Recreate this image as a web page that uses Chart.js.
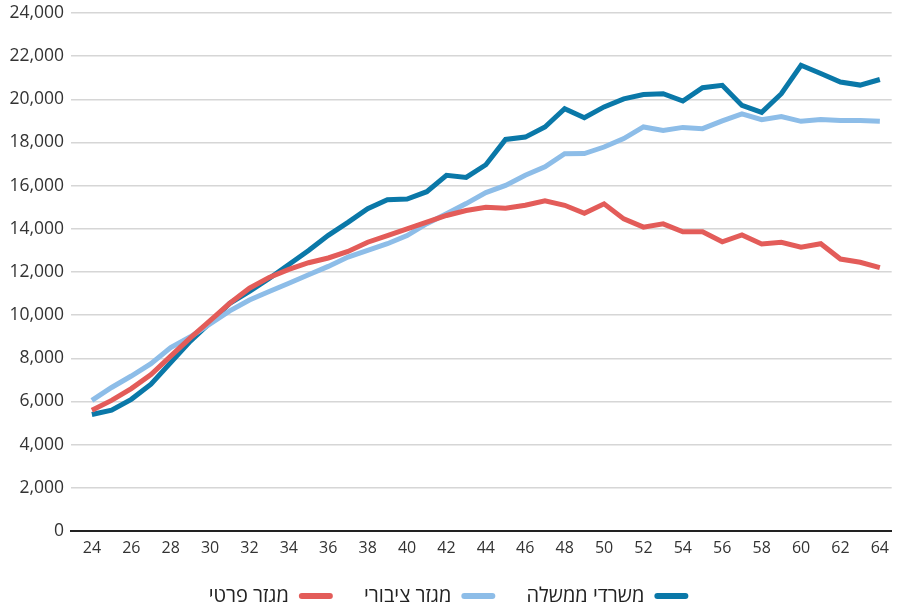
<!DOCTYPE html>
<html>
<head>
<meta charset="utf-8">
<script src="https://cdn.jsdelivr.net/npm/chart.js@4"></script>
<style>
  body { margin: 0; background: #fff; }
  #wrap { width: 897px; height: 604px; position: relative; }
</style>
</head>
<body>
<div id="wrap"><canvas id="chart"></canvas></div>
<script>
// ages on the x axis
var ages = [24, 25, 26, 27, 28, 29, 30, 31, 32, 33, 34, 35, 36, 37, 38, 39, 40, 41, 42, 43, 44,
  45, 46, 47, 48, 49, 50, 51, 52, 53, 54, 55, 56, 57, 58, 59, 60, 61, 62, 63, 64];
var xTicks = [24, 26, 28, 30, 32, 34, 36, 38, 40, 42, 44, 46, 48, 50, 52, 54, 56, 58, 60, 62, 64];

var govOffices = [5400, 5600, 6100, 6800, 7800, 8800, 9650, 10550, 11100, 11700, 12350, 13000,
  13700, 14300, 14930, 15350, 15380, 15720, 16480, 16380, 16970, 18140, 18250, 18720, 19570,
  19150, 19650, 20020, 20220, 20260, 19920, 20540, 20650, 19720, 19400, 20260, 21580, 21200,
  20800, 20660, 20920];
var publicSector = [6050, 6650, 7180, 7750, 8500, 9000, 9600, 10200, 10700, 11100, 11480, 11870,
  12260, 12690, 13000, 13310, 13690, 14240, 14700, 15170, 15680, 16010, 16480, 16870, 17480,
  17490, 17790, 18180, 18720, 18560, 18700, 18640, 19000, 19330, 19060, 19200, 18980, 19060,
  19020, 19020, 18990];
var privateSector = [5600, 6050, 6600, 7250, 8100, 8950, 9750, 10550, 11250, 11750, 12120, 12430,
  12650, 12950, 13380, 13690, 14000, 14310, 14620, 14850, 15000, 14950, 15090, 15300, 15090,
  14720, 15160, 14460, 14080, 14230, 13860, 13860, 13400, 13720, 13300, 13380, 13150, 13310,
  12600, 12450, 12200];

var seriesNames = ['משרדי ממשלה', 'מגזר ציבורי', 'מגזר פרטי'];
var yTicks = [0, 2000, 4000, 6000, 8000, 10000, 12000, 14000, 16000, 18000, 20000, 22000, 24000];

function pts(vals) {
  return ages.map(function(a, i) { return {x: a, y: vals[i]}; });
}

function mkSet(label, vals, color, ord) {
  return {
    label: label,
    data: pts(vals),
    borderColor: color,
    backgroundColor: color,
    borderWidth: 5,
    pointRadius: 0,
    tension: 0,
    order: ord,
    borderJoinStyle: 'miter',
    borderCapStyle: 'butt'
  };
}

Chart.defaults.font.family = '"Open Sans", "DejaVu Sans", sans-serif';
Chart.defaults.color = '#333';

new Chart(document.getElementById('chart'), {
  type: 'line',
  data: {
    datasets: [
      mkSet(seriesNames[0], govOffices, '#0a78a8', 2),
      mkSet(seriesNames[1], publicSector, '#8dbde8', 1),
      mkSet(seriesNames[2], privateSector, '#e35c59', 0)
    ]
  },
  options: {
    responsive: true,
    maintainAspectRatio: false,
    animation: false,
    layout: { padding: { top: 13, right: 0, left: 0, bottom: -12 } },
    plugins: {
      tooltip: { enabled: false },
      legend: {
        position: 'bottom',
        rtl: true,
        textDirection: 'rtl',
        labels: {
          boxWidth: 34,
          boxHeight: 6,
          useBorderRadius: true,
          borderRadius: 3,
          padding: 26,
          font: { size: 20 },
          color: '#222',
          sort: function(a, b) { return a.datasetIndex - b.datasetIndex; },
          generateLabels: function(chart) {
            var items = Chart.defaults.plugins.legend.labels.generateLabels(chart);
            items.forEach(function(it) {
              it.lineWidth = 0;
              // a little extra room between items
              if (it.datasetIndex < 2) it.text = it.text + '\u00A0';
            });
            return items;
          }
        }
      }
    },
    scales: {
      x: {
        type: 'linear',
        min: 22.94,
        max: 64.6,
        afterBuildTicks: function(scale) {
          scale.ticks = xTicks.map(function(v) { return {value: v}; });
        },
        afterFit: function(scale) { scale.height = 29; },
        grid: { display: false, drawTicks: false },
        border: { display: true, color: '#222', width: 2 },
        ticks: { font: { size: 16 }, padding: 8, color: '#333', autoSkip: false, maxRotation: 0 }
      },
      y: {
        min: 0,
        max: 24000,
        afterBuildTicks: function(scale) {
          scale.ticks = yTicks.map(function(v) { return {value: v}; });
        },
        afterFit: function(scale) {
          scale.width = 71;
          scale.paddingTop = 0;
          scale.paddingBottom = 0;
        },
        grid: {
          drawTicks: false,
          color: function(ctx) { return ctx.tick && ctx.tick.value === 0 ? '#222' : '#d6d6d6'; },
          lineWidth: function(ctx) { return ctx.tick && ctx.tick.value === 0 ? 2 : 1.5; }
        },
        border: { display: false },
        ticks: {
          font: { size: 17.5 },
          padding: 7,
          color: '#333',
          callback: function(v) { return v.toLocaleString('en-US'); }
        }
      }
    }
  }
});
</script>
</body>
</html>
